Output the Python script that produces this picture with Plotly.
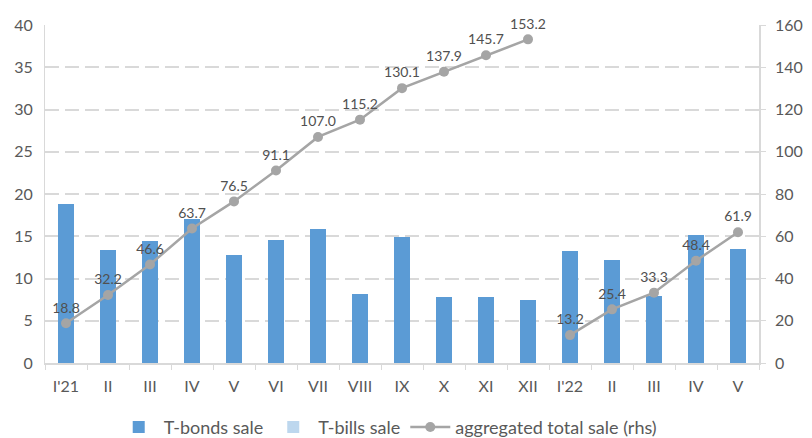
import plotly.graph_objects as go

months = ["I'21", "II", "III", "IV", "V", "VI", "VII", "VIII", "IX", "X", "XI", "XII",
          "I'22", "II", "III", "IV", "V"]
t_bonds = [18.8, 13.4, 14.4, 17.1, 12.8, 14.6, 15.9, 8.2, 14.9, 7.8, 7.8, 7.5,
           13.2, 12.2, 7.9, 15.1, 13.5]
t_bills = [0] * 17
total_2021 = [18.8, 32.2, 46.6, 63.7, 76.5, 91.1, 107.0, 115.2, 130.1, 137.9, 145.7, 153.2]
total_2022 = [13.2, 25.4, 33.3, 48.4, 61.9]

x = list(range(len(months)))
x21 = x[:len(total_2021)]
x22 = x[len(total_2021):]

FONT = "Lato, Liberation Sans, sans-serif"
GREY = "#A5A5A5"
GRID = "#D9D9D9"
TXT = "#595959"

fig = go.Figure()

fig.add_trace(go.Bar(x=x, y=t_bonds, name="T-bonds sale", marker_color="#5B9BD5",
                     marker_line_width=0, width=0.4))
fig.add_trace(go.Bar(x=x, y=t_bills, name="T-bills sale", marker_color="#BDD7EE",
                     marker_line_width=0, width=0.4))

# cumulative line, split by year so there is a gap between XII and I'22
for i, (xs, ys) in enumerate([(x21, total_2021), (x22, total_2022)]):
    fig.add_trace(go.Scatter(
        x=xs, y=ys, yaxis="y2", mode="lines+markers+text",
        name="aggregated total sale (rhs)", legendgroup="total", showlegend=(i == 0),
        line=dict(color=GREY, width=2.5), marker=dict(color=GREY, size=10),
        text=[f"{v:.1f}" for v in ys], textposition="top center",
        textfont=dict(size=14, color="#505050", family=FONT),
        cliponaxis=False,
    ))

# page body has an 8px margin, so the figure is sized/offset to compensate
fig.update_layout(
    width=804, height=430,
    margin=dict(l=37, r=53, t=17, b=75, autoexpand=False),
    paper_bgcolor="white", plot_bgcolor="white",
    barmode="stack",
    font=dict(family=FONT, size=16, color=TXT),
    showlegend=True,
    legend=dict(orientation="h", x=0.48, xanchor="center", y=-0.19, yanchor="middle",
                font=dict(size=18, color=TXT), itemwidth=40, traceorder="normal"),
    xaxis=dict(
        range=[-0.5, 16.5], tickvals=x, ticktext=months, ticks="", automargin=False,
        showline=True, linecolor=GRID, linewidth=1.5, showgrid=False, zeroline=False,
        ticklabelstandoff=8,
        minor=dict(tick0=-0.5, dtick=1, ticks="outside", ticklen=5, tickcolor=GRID, showgrid=False),
    ),
    yaxis=dict(
        range=[0, 40], dtick=5, showgrid=True, gridcolor=GRID, gridwidth=1.5,
        griddash="14px,6px", zeroline=False, showline=True, linecolor=GRID, linewidth=1,
        ticks="", ticklabelstandoff=8, automargin=False,
    ),
    yaxis2=dict(
        range=[0, 160], dtick=20, overlaying="y", side="right", showgrid=False,
        zeroline=False, showline=True, linecolor=GRID, linewidth=1.5, automargin=False,
        ticks="outside", ticklen=5, tickcolor=GRID, ticklabelstandoff=6,
    ),
)

fig.write_html("out.html")
